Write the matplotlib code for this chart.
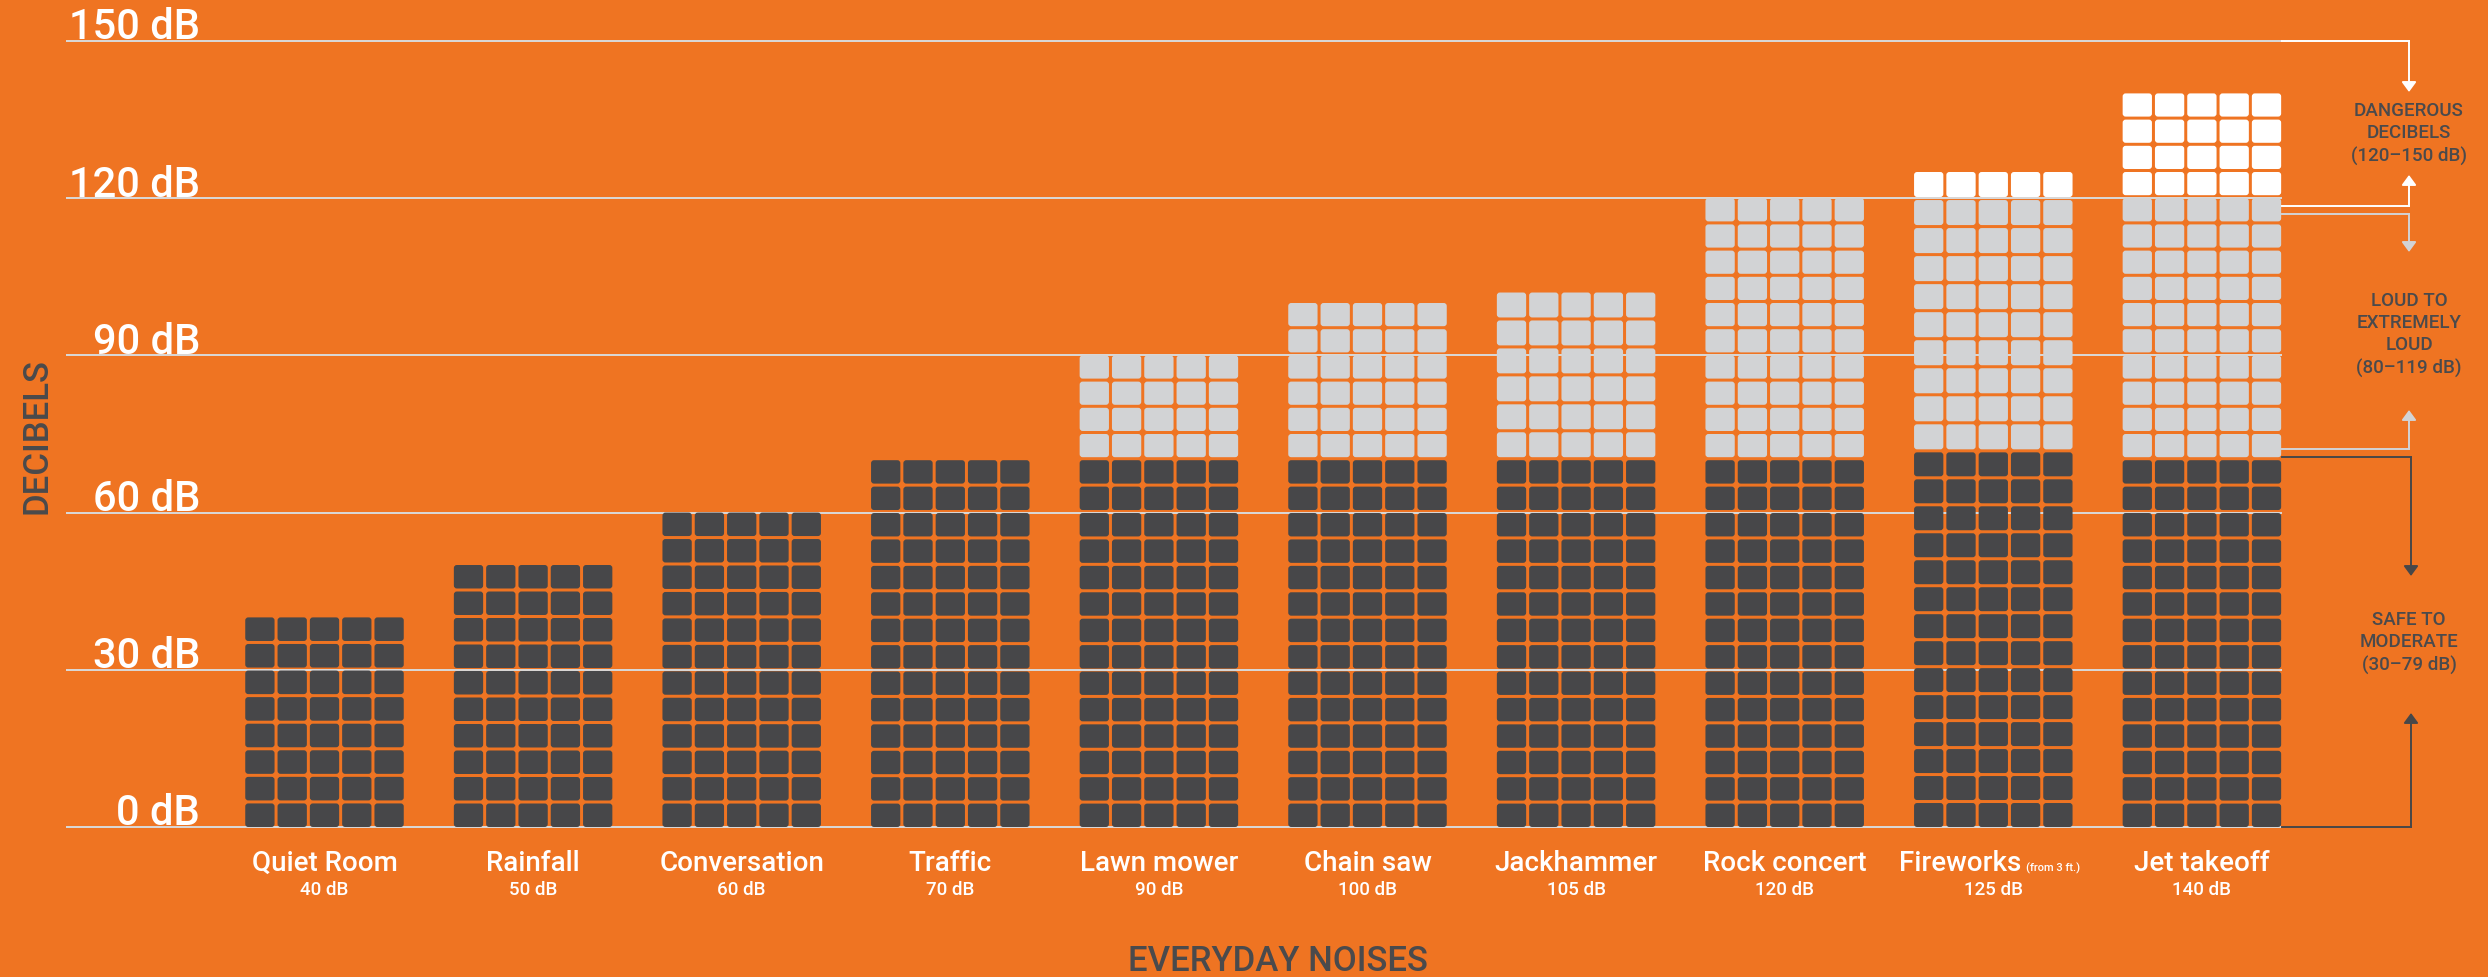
import matplotlib
matplotlib.use("Agg")
import matplotlib.pyplot as plt
from matplotlib.patches import FancyBboxPatch

# ---------------- data ----------------
categories = ["Quiet Room", "Rainfall", "Conversation", "Traffic", "Lawn mower",
              "Chain saw", "Jackhammer", "Rock concert", "Fireworks", "Jet takeoff"]
db_labels = ["40 dB", "50 dB", "60 dB", "70 dB", "90 dB",
             "100 dB", "105 dB", "120 dB", "125 dB", "140 dB"]
bar_height_db = [40, 50, 60, 70, 90, 100, 102, 120, 125, 140]
dark_top_db = [40, 50, 60, 70, 70, 70, 70, 70, 71.5, 70]
dark_rows = [8, 10, 12, 14, 14, 14, 14, 14, 14, 14]
light_rows = [0, 0, 0, 0, 4, 6, 6, 10, 9, 10]
white_rows = [0, 0, 0, 0, 0, 0, 0, 0, 1, 4]
y_ticks = [0, 30, 60, 90, 120, 150]
y_tick_labels = ["0 dB", "30 dB", "60 dB", "90 dB", "120 dB", "150 dB"]
zone_texts = ["DANGEROUS\nDECIBELS\n(120\u2013150 dB)",
              "LOUD TO\nEXTREMELY\nLOUD\n(80\u2013119 dB)",
              "SAFE TO\nMODERATE\n(30\u201379 dB)"]

# ---------------- style ----------------
ORANGE = "#EF7422"
DARK = "#474749"
LIGHT = "#D2D3D5"
WHITE = "#FFFFFF"
GRID = "#D9D9D9"
TEXTDARK = "#4A4A4C"
FONT = ["Roboto", "DejaVu Sans"]
WEIGHT = "medium"

W, H = 2488, 977
PX_X = 208.6      # pixels per category
PX_Y = 5.24       # pixels per dB
X0, Y0 = 324.5, 827.0

def px2x(px):
    return (px - X0) / PX_X

def py2y(py):
    return (Y0 - py) / PX_Y

fig = plt.figure(figsize=(W / 100, H / 100), dpi=100)
fig.patch.set_facecolor(ORANGE)
ax = fig.add_axes([0, 0, 1, 1])
ax.set_xlim(px2x(0), px2x(W))
ax.set_ylim(py2y(H), py2y(0))
ax.axis("off")

# grid lines
x_grid_left = px2x(66)
x_col_right = px2x(2282)
x_br = px2x(2409)
for v, lab in zip(y_ticks, y_tick_labels):
    ax.plot([x_grid_left, x_col_right], [v, v], color=GRID, lw=1.4, zorder=1,
            solid_capstyle="butt")
    ax.text(px2x(200), v + 0.3, lab, ha="right", va="baseline", color="white",
            fontsize=30, family=FONT, weight=WEIGHT, zorder=3)

# blocks
col_pitch = 32.3 / PX_X
block_w = 29.3 / PX_X
gap_y = 3.0 / PX_Y
rnd = 3.0 / PX_X

def add_block(x, y, h, c):
    ax.add_patch(FancyBboxPatch((x, y), block_w, h,
                                boxstyle=f"round,pad=0,rounding_size={rnd}",
                                mutation_aspect=PX_X / PX_Y,
                                fc=c, ec="none", lw=0, zorder=2))

for i in range(len(categories)):
    x_left = i - (4 * col_pitch + block_w) / 2
    # dark segment
    nd = dark_rows[i]
    pd = (dark_top_db[i] + gap_y) / nd
    for k in range(nd):
        for j in range(5):
            add_block(x_left + j * col_pitch, k * pd, pd - gap_y, DARK)
    # upper segment (light + white)
    nu = light_rows[i] + white_rows[i]
    if nu:
        base = dark_top_db[i] + gap_y
        pu = (bar_height_db[i] - base + gap_y) / nu
        for k in range(nu):
            c = LIGHT if k < light_rows[i] else WHITE
            for j in range(5):
                add_block(x_left + j * col_pitch, base + k * pu, pu - gap_y, c)

# x labels
for i, (name, lab) in enumerate(zip(categories, db_labels)):
    if name == "Fireworks":
        ax.text(i + 28 / PX_X, py2y(871), name, ha="right", va="baseline",
                color="white", fontsize=20, family=FONT, weight=WEIGHT)
        ax.text(i + 33 / PX_X, py2y(871), "(from 3 ft.)", ha="left", va="baseline",
                color="white", fontsize=8, family=FONT, weight=WEIGHT)
    else:
        ax.text(i, py2y(871), name, ha="center", va="baseline",
                color="white", fontsize=20, family=FONT, weight=WEIGHT)
    ax.text(i, py2y(895), lab, ha="center", va="baseline",
            color="white", fontsize=13.5, family=FONT, weight=WEIGHT)

ax.text(px2x(1278), py2y(971), "EVERYDAY NOISES", ha="center", va="baseline",
        color=TEXTDARK, fontsize=25, family=FONT, weight=WEIGHT)
ax.text(px2x(37), py2y(436), "DECIBELS", ha="center", va="center", rotation=90,
        color=TEXTDARK, fontsize=25, family=FONT, weight=WEIGHT)

# brackets
def arrow(x, y_from, y_to, color):
    ax.annotate("", xy=(x, y_to), xytext=(x, y_from),
                arrowprops=dict(arrowstyle="-|>,head_length=0.3,head_width=0.22",
                                color=color, lw=1.4, shrinkA=0, shrinkB=0,
                                mutation_scale=20),
                annotation_clip=False, zorder=3)

def hline(y, color, x_end):
    ax.plot([x_col_right, x_end], [y, y], color=color, lw=1.4, zorder=3,
            solid_capstyle="projecting")

# dangerous
hline(150, WHITE, x_br)
arrow(x_br, 150, py2y(92), WHITE)
hline(py2y(206), WHITE, x_br)
arrow(x_br, py2y(206), py2y(175), WHITE)
# loud
hline(py2y(214), LIGHT, x_br)
arrow(x_br, py2y(214), py2y(252), LIGHT)
hline(py2y(449), LIGHT, x_br)
arrow(x_br, py2y(449), py2y(410), LIGHT)
# safe
x_br2 = px2x(2411)
hline(py2y(457), DARK, x_br2)
arrow(x_br2, py2y(457), py2y(576), DARK)
hline(0, DARK, x_br2)
arrow(x_br2, 0, py2y(713), DARK)

for txt, cy in zip(zone_texts, [134, 335, 643]):
    ax.text(x_br, py2y(cy), txt, ha="center", va="center", multialignment="center",
            color=TEXTDARK, fontsize=13.5, family=FONT, weight=WEIGHT,
            linespacing=1.3)

fig.savefig("out.png", dpi=100, facecolor=ORANGE)
